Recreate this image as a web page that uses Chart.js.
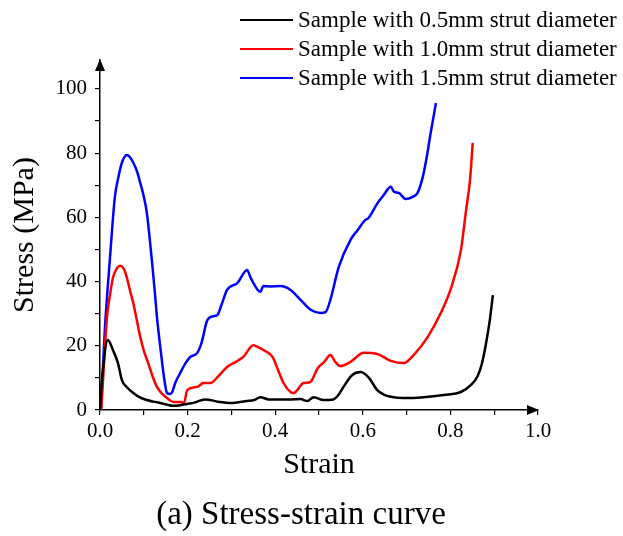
<!DOCTYPE html>
<html>
<head>
<meta charset="utf-8">
<script src="https://cdn.jsdelivr.net/npm/chart.js@4"></script>
<style>
  html, body { margin: 0; padding: 0; background: #fff; }
  #wrap { width: 623px; height: 536px; position: relative; }
</style>
</head>
<body>
<div id="wrap"><canvas id="myChart"></canvas></div>
<script>
const serif = "'Times New Roman', 'Liberation Serif', serif";

const seriesLabels = [
  'Sample with 0.5mm strut diameter',
  'Sample with 1.0mm strut diameter',
  'Sample with 1.5mm strut diameter'
];
const seriesColors = ['#000000', '#ff0000', '#0000ff'];
const caption = '(a) Stress-strain curve';

// 0.5mm strut
const strain05 = [0, 0.005, 0.018, 0.03, 0.041, 0.05, 0.062, 0.076, 0.09, 0.107, 0.122, 0.137, 0.152, 0.167, 0.183, 0.199, 0.215, 0.24, 0.27, 0.297, 0.336, 0.352, 0.366, 0.385, 0.405, 0.435, 0.458, 0.473, 0.488, 0.51, 0.533, 0.545, 0.556, 0.576, 0.595, 0.614, 0.633, 0.648, 0.664, 0.693, 0.739, 0.785, 0.824, 0.847, 0.862, 0.872, 0.881, 0.89, 0.897];
const stress05 = [0, 10, 21.8, 18.5, 14.6, 9.3, 7.0, 5.3, 4.0, 3.1, 2.6, 2.2, 1.7, 1.3, 1.5, 1.9, 2.3, 3.3, 2.6, 2.2, 2.8, 3.1, 4.0, 3.3, 3.3, 3.3, 3.4, 2.8, 4.0, 3.1, 3.3, 4.8, 7.2, 10.9, 11.8, 10.0, 6.2, 4.8, 4.1, 3.7, 4.0, 4.7, 5.6, 7.8, 10.5, 14.5, 20.5, 28, 35.8];

// 1.0mm strut
const strain10 = [0.003, 0.008, 0.016, 0.023, 0.03, 0.038, 0.046, 0.054, 0.061, 0.068, 0.076, 0.084, 0.092, 0.1, 0.11, 0.12, 0.13, 0.142, 0.153, 0.167, 0.183, 0.192, 0.199, 0.222, 0.236, 0.252, 0.27, 0.29, 0.31, 0.327, 0.35, 0.362, 0.373, 0.394, 0.405, 0.419, 0.435, 0.442, 0.465, 0.48, 0.497, 0.512, 0.526, 0.537, 0.549, 0.572, 0.602, 0.634, 0.664, 0.693, 0.716, 0.748, 0.778, 0.8, 0.824, 0.835, 0.845, 0.851];
const stress10 = [0, 12, 29, 36, 41.4, 44, 44.9, 44, 41.4, 37.5, 33.3, 28, 22.7, 18.5, 14.6, 10.5, 7.2, 5, 3.7, 2.5, 2.5, 2.2, 6.2, 7.2, 8.4, 8.4, 10.5, 13.4, 15, 16.5, 20.2, 19.5, 18.7, 16.5, 13, 8.4, 5.6, 5.3, 8.4, 8.7, 13, 15, 17.1, 15, 13.7, 15, 17.8, 17.4, 15.3, 14.6, 17.1, 22.7, 30.2, 37.4, 49.8, 61.4, 72, 83.2];

// 1.5mm strut
const strain15 = [0.002, 0.011, 0.017, 0.023, 0.028, 0.034, 0.042, 0.05, 0.061, 0.068, 0.076, 0.084, 0.092, 0.1, 0.107, 0.113, 0.119, 0.125, 0.13, 0.136, 0.142, 0.148, 0.153, 0.16, 0.165, 0.172, 0.183, 0.195, 0.206, 0.222, 0.232, 0.245, 0.258, 0.268, 0.278, 0.29, 0.314, 0.336, 0.343, 0.35, 0.366, 0.373, 0.39, 0.412, 0.435, 0.458, 0.481, 0.503, 0.515, 0.526, 0.545, 0.572, 0.588, 0.606, 0.613, 0.634, 0.648, 0.664, 0.671, 0.682, 0.698, 0.714, 0.725, 0.737, 0.745, 0.755, 0.767];
const stress15 = [0, 25, 37, 47.7, 57, 66.4, 72.5, 77, 79.4, 78.8, 77, 74.5, 70.7, 66.5, 61.4, 54, 45.8, 37, 29, 21.5, 14.6, 8.5, 5.3, 5, 5.6, 8.5, 11.5, 14.5, 16.5, 17.8, 21, 28, 29.2, 29.6, 33, 37.4, 39.6, 43.6, 41.5, 39.6, 36.8, 38.6, 38.5, 38.6, 37.4, 34.3, 31.2, 30.2, 30.5, 34.3, 44.5, 53, 56, 59.2, 59.8, 64.5, 67, 69.5, 68, 67.6, 65.7, 66.4, 67.6, 72.6, 78, 86.3, 95.6];

const xTicks = [0, 0.1, 0.2, 0.3, 0.4, 0.5, 0.6, 0.7, 0.8, 0.9, 1.0];
const yTicks = [0, 10, 20, 30, 40, 50, 60, 70, 80, 90, 100];

function toPoints(xs, ys) {
  return xs.map((x, i) => ({ x: x, y: ys[i] }));
}

// legend, caption and axis arrows drawn on top
const extras = {
  id: 'extras',
  afterDraw(chart) {
    const c = chart.ctx;
    const a = chart.chartArea;
    c.save();
    c.fillStyle = '#000';
    // x arrow
    c.beginPath();
    c.moveTo(a.right + 1, a.bottom);
    c.lineTo(a.right - 11, a.bottom - 5);
    c.lineTo(a.right - 11, a.bottom + 5);
    c.closePath();
    c.fill();
    // y arrow
    c.beginPath();
    c.moveTo(a.left, a.top - 1);
    c.lineTo(a.left - 5, a.top + 11);
    c.lineTo(a.left + 5, a.top + 11);
    c.closePath();
    c.fill();

    // legend
    c.font = '23px ' + serif;
    c.textBaseline = 'middle';
    c.lineWidth = 2;
    chart.data.datasets.forEach((ds, i) => {
      const y = 20 + i * 29;
      c.strokeStyle = ds.borderColor;
      c.beginPath();
      c.moveTo(240, y);
      c.lineTo(293, y);
      c.stroke();
      c.fillStyle = '#000';
      c.fillText(ds.label, 298, y + 1);
    });

    // caption
    c.font = '33px ' + serif;
    c.textAlign = 'center';
    c.fillText(caption, 301, 515);
    c.restore();
  }
};

const ctx = document.getElementById('myChart').getContext('2d');

new Chart(ctx, {
  type: 'line',
  data: {
    datasets: [
      { label: seriesLabels[0], data: toPoints(strain05, stress05), borderColor: seriesColors[0] },
      { label: seriesLabels[1], data: toPoints(strain10, stress10), borderColor: seriesColors[1] },
      { label: seriesLabels[2], data: toPoints(strain15, stress15), borderColor: seriesColors[2] }
    ]
  },
  options: {
    responsive: true,
    maintainAspectRatio: false,
    animation: false,
    layout: { padding: { top: 60, right: 85, left: 0, bottom: 41 } },
    elements: {
      point: { radius: 0 },
      line: { borderWidth: 2.5, cubicInterpolationMode: 'monotone', fill: false }
    },
    plugins: {
      legend: { display: false },
      tooltip: { enabled: false }
    },
    scales: {
      x: {
        type: 'linear',
        min: 0,
        max: 1.0,
        afterFit: s => { s.height = 85; },
        afterBuildTicks: s => { s.ticks = xTicks.map(v => ({ value: v })); },
        ticks: {
          color: '#000',
          font: { family: serif, size: 21 },
          padding: 4,
          maxRotation: 0,
          autoSkip: false,
          callback: v => (Math.round(v * 10) % 2 === 0 ? v.toFixed(1) : '')
        },
        grid: { drawOnChartArea: false, drawTicks: true, tickLength: 5, color: '#000', lineWidth: 1.2 },
        border: { display: true, color: '#000', width: 1.5 },
        title: {
          display: true,
          text: 'Strain',
          color: '#000',
          font: { family: serif, size: 30 },
          padding: { top: 0, bottom: 12 }
        }
      },
      y: {
        type: 'linear',
        min: 0,
        max: 109,
        afterFit: s => { s.width = 100; },
        afterBuildTicks: s => { s.ticks = yTicks.map(v => ({ value: v })); },
        ticks: {
          color: '#000',
          font: { family: serif, size: 21 },
          padding: 8,
          autoSkip: false,
          callback: v => (v % 20 === 0 ? String(v) : '')
        },
        grid: { drawOnChartArea: false, drawTicks: true, tickLength: 5, color: '#000', lineWidth: 1.2 },
        border: { display: true, color: '#000', width: 1.5 },
        title: {
          display: true,
          text: 'Stress (MPa)',
          color: '#000',
          font: { family: serif, size: 30 },
          padding: { top: 7, bottom: 0 }
        }
      }
    }
  },
  plugins: [extras]
});
</script>
</body>
</html>
